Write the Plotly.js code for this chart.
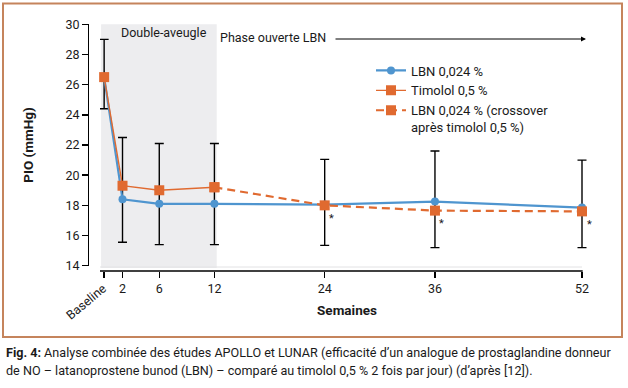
<!DOCTYPE html>
<html>
<head>
<meta charset="utf-8">
<script src="https://cdn.plot.ly/plotly-3.0.1.min.js"></script>
<style>html,body{margin:0;padding:0;background:#fff;}#chart{width:628px;height:388px;}</style>
</head>
<body>
<div id="chart"></div>
<script>
// ---- data ----
const weeks = [0, 2, 6, 12, 24, 36, 52];
const tickLabels = ['Baseline', '2', '6', '12', '24', '36', '52'];
const lbnValues = [26.5, 18.4, 18.1, 18.1, 18.05, 18.25, 17.85];
const timololWeeks = [0, 2, 6, 12];
const timololValues = [26.5, 19.3, 19.0, 19.2];
const crossoverWeeks = [12, 24, 36, 52];
const crossoverValues = [19.2, 18.0, 17.65, 17.6];
const errUpper = [29.0, 22.5, 22.1, 22.1, 21.05, 21.6, 21.0];
const errLower = [24.4, 15.55, 15.4, 15.4, 15.35, 15.2, 15.2];
const signifWeeks = [24, 36, 52];
const seriesNames = ['LBN 0,024 %', 'Timolol 0,5 %', 'LBN 0,024 % (crossover<br>après timolol 0,5 %)'];
const captionLines = [
  '<b>Fig. 4:</b> Analyse combinée des études APOLLO et LUNAR (efficacité d\u2019un analogue de prostaglandine donneur',
  'de NO \u2013 latanoprostene bunod (LBN) \u2013 comparé au timolol 0,5 % 2 fois par jour) (d\u2019après [12]).'
];

// ---- styling ----
const W = 628, H = 388;
const px = v => v / W;
const py = v => (H - v) / H;
const FONT = 'Roboto, "DejaVu Sans", sans-serif';
const BLUE = '#4f95cf';
const ORANGE = '#e06a30';
const TXT = '#1a1a1a';
const FS = 12.5;

const errMid = errUpper.map((u, i) => (u + errLower[i]) / 2);
const errHalf = errUpper.map((u, i) => (u - errLower[i]) / 2);

const traces = [
  {
    x: weeks, y: errMid, mode: 'markers', type: 'scatter',
    marker: {size: 1, opacity: 0}, showlegend: false, hoverinfo: 'skip', cliponaxis: false,
    error_y: {type: 'data', array: errHalf, visible: true, color: '#000', thickness: 1.4, width: 4.5}
  },
  {
    x: weeks, y: lbnValues, name: seriesNames[0], mode: 'lines+markers', type: 'scatter',
    line: {color: BLUE, width: 2.2}, marker: {color: BLUE, size: 8, symbol: 'circle'}, cliponaxis: false
  },
  {
    x: timololWeeks, y: timololValues, name: seriesNames[1], mode: 'lines+markers', type: 'scatter',
    line: {color: ORANGE, width: 1.4}, marker: {color: ORANGE, size: 10, symbol: 'square'}, cliponaxis: false
  },
  {
    x: crossoverWeeks, y: crossoverValues, name: seriesNames[2], mode: 'lines+markers', type: 'scatter',
    line: {color: ORANGE, width: 2.2, dash: '8px,5px'}, marker: {color: ORANGE, size: 10, symbol: 'square'}, cliponaxis: false
  }
];

const annotations = [
  {xref: 'paper', yref: 'paper', x: px(164), y: py(32), text: 'Double-aveugle', showarrow: false,
   xanchor: 'center', yanchor: 'middle', font: {family: FONT, size: FS, color: TXT}},
  {xref: 'paper', yref: 'paper', x: px(218), y: py(37), text: 'Phase ouverte LBN', showarrow: false,
   xanchor: 'left', yanchor: 'middle', font: {family: FONT, size: FS, color: TXT}},
  {xref: 'paper', yref: 'paper', x: px(586), y: py(39), text: '', showarrow: true, ax: -252, ay: 0,
   arrowhead: 2, arrowsize: 1, arrowwidth: 1, arrowcolor: '#000', standoff: 0},
  {xref: 'paper', yref: 'paper', x: px(86), y: py(301), text: tickLabels[0], showarrow: false, textangle: -40,
   xanchor: 'center', yanchor: 'middle', font: {family: FONT, size: FS, color: TXT}},
  {xref: 'paper', yref: 'paper', x: px(4), y: py(352), text: captionLines[0], showarrow: false,
   xanchor: 'left', yanchor: 'middle', font: {family: FONT, size: 12.6, color: TXT}},
  {xref: 'paper', yref: 'paper', x: px(4), y: py(370), text: captionLines[1], showarrow: false,
   xanchor: 'left', yanchor: 'middle', font: {family: FONT, size: 12.6, color: TXT}}
];
signifWeeks.forEach(w => {
  const i = crossoverWeeks.indexOf(w);
  annotations.push({xref: 'x', yref: 'y', x: w, y: crossoverValues[i], text: '*', showarrow: false,
    xshift: 7, yshift: -13, font: {family: FONT, size: 11, color: TXT}});
});

// x axis: -0.45 maps to px 100, 52 maps to px 582; domain extended so end caps are not clipped
const xLeft = -0.45, xRight = 52;
const pxPerUnit = (582 - 100) / (xRight - xLeft);
const domRight = 594;

const layout = {
  width: W, height: H,
  margin: {l: 0, r: 0, t: 0, b: 0},
  paper_bgcolor: '#fff', plot_bgcolor: 'rgba(0,0,0,0)',
  font: {family: FONT, size: FS, color: TXT},
  showlegend: true,
  legend: {x: px(371), y: py(55.5), xanchor: 'left', yanchor: 'top', bgcolor: 'rgba(0,0,0,0)',
    font: {family: FONT, size: 13, color: TXT}, itemwidth: 30, valign: 'top', tracegroupgap: 0},
  xaxis: {
    domain: [px(100), px(domRight)], anchor: 'free', position: py(271),
    range: [xLeft, xRight + (domRight - 582) / pxPerUnit], tickmode: 'array', tickvals: weeks,
    ticktext: tickLabels.map((t, i) => i === 0 ? '' : t),
    ticks: 'outside', ticklen: 6, tickwidth: 1.4, tickcolor: '#000',
    showline: false, showgrid: false, zeroline: false,
    tickfont: {family: FONT, size: FS, color: TXT},
    title: {text: 'Semaines', font: {family: FONT, size: 13.5, color: TXT, weight: 700}, standoff: 10}
  },
  yaxis: {
    domain: [py(265.7), py(24.3)], anchor: 'free', position: px(88),
    range: [14, 30], tick0: 14, dtick: 2,
    ticks: 'outside', ticklen: 6, tickwidth: 1.4, tickcolor: '#000',
    showline: true, linecolor: '#000', linewidth: 1.4, showgrid: false, zeroline: false,
    tickfont: {family: FONT, size: FS, color: TXT},
    title: {text: 'PIO (mmHg)', font: {family: FONT, size: 13.5, color: TXT, weight: 700}, standoff: 27}
  },
  shapes: [
    {type: 'rect', xref: 'x', yref: 'paper', x0: -0.33, x1: 12.25, y0: py(268), y1: py(24.3),
     fillcolor: '#ededef', line: {width: 0}, layer: 'below'},
    {type: 'line', xref: 'paper', yref: 'paper', x0: px(100), x1: px(582), y0: py(267), y1: py(267),
     line: {color: '#e2e2e4', width: 1}, layer: 'below'},
    {type: 'line', xref: 'paper', yref: 'paper', x0: px(100), x1: px(582.7), y0: py(271), y1: py(271),
     line: {color: '#000', width: 1.4}, layer: 'above'},
    {type: 'rect', xref: 'paper', yref: 'paper', x0: px(3), x1: px(622), y0: py(337), y1: py(3.5),
     line: {color: '#c5845c', width: 2}, fillcolor: 'rgba(0,0,0,0)', layer: 'below'}
  ],
  annotations: annotations
};

Plotly.newPlot('chart', traces, layout, {displayModeBar: false, staticPlot: true});
</script>
</body>
</html>
